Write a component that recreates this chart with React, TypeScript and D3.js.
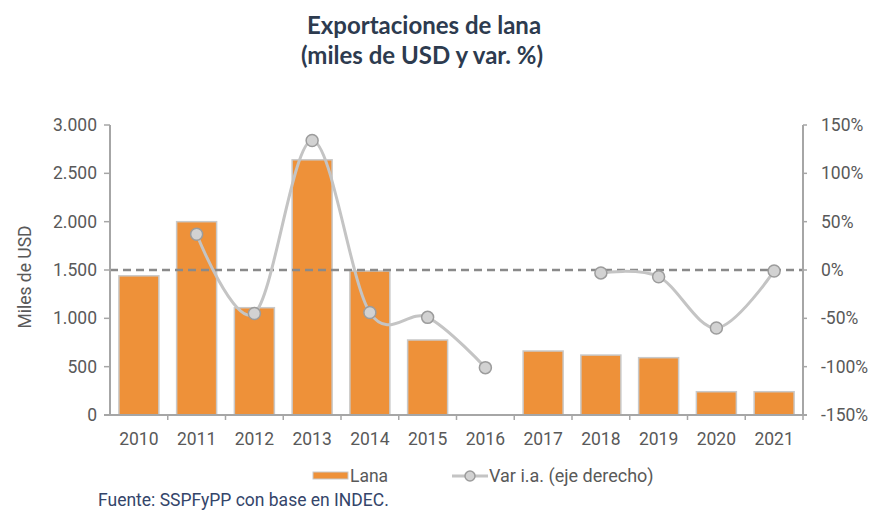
import React from 'react';
import * as d3 from 'd3';

const years = ['2010', '2011', '2012', '2013', '2014', '2015', '2016', '2017', '2018', '2019', '2020', '2021'];
const lana = [1440, 2000, 1110, 2640, 1490, 776, 0, 662, 620, 593, 241, 241];
const variacion: (number | null)[] = [null, 37, -45, 134, -44, -49, -101, null, -3, -7, -60, -1];
const leftTicks = [0, 500, 1000, 1500, 2000, 2500, 3000];
const rightTicks = [-150, -100, -50, 0, 50, 100, 150];

const W = 872;
const H = 514;
const M = { left: 110, right: 69, top: 125, bottom: 99 };

const fmtLeft = (v: number) => d3.format(',')(v).replace(/,/g, '.');
const fmtRight = (v: number) => `${v}%`;

export default function App() {
  const innerW = W - M.left - M.right;
  const yL = d3.scaleLinear().domain([0, 3000]).range([H - M.bottom, M.top]);
  const yR = d3.scaleLinear().domain([-150, 150]).range([H - M.bottom, M.top]);
  const step = innerW / years.length;
  const band = d3.scaleBand<string>().domain(years).range([M.left, M.left + innerW]);

  const pts = years.map((yr, i) => ({ yr, v: variacion[i] }));
  const lineGen = d3
    .line<{ yr: string; v: number | null }>()
    .defined((d) => d.v !== null)
    .x((d) => (band(d.yr) as number) + band.bandwidth() / 2)
    .y((d) => yR(d.v as number))
    .curve(d3.curveCatmullRom.alpha(0));

  const axisColor = '#a6a6a6';
  const textColor = '#595959';
  const font = 'Roboto, "Liberation Sans", Arial, sans-serif';
  const fs = 17.5;
  const y0 = H - M.bottom;
  const xR = M.left + innerW;

  return (
    <svg width={W} height={H} style={{ display: 'block', position: 'absolute', left: 0, top: 0, background: '#fff' }}>
      <rect x={0} y={0} width={W} height={H} fill="#fff" />
      {/* Title */}
      <g fontFamily='Lato, "Open Sans", sans-serif' fontWeight={700} fontSize={24} fill="#2d3b4f" textAnchor="middle">
        <text x={424} y={34}>Exportaciones de lana</text>
        <text x={422} y={64}>(miles de USD y var. %)</text>
      </g>

      {/* Bars */}
      {years.map((yr, i) =>
        lana[i] > 0 ? (
          <rect
            key={yr}
            x={(band(yr) as number) + (band.bandwidth() - 40) / 2}
            y={yL(lana[i])}
            width={40}
            height={y0 - yL(lana[i])}
            fill="#ee9139"
            stroke="#c9c9c9"
            strokeWidth={1.5}
          />
        ) : null
      )}

      {/* Zero dashed line (right axis) */}
      <line x1={M.left} x2={xR} y1={yR(0)} y2={yR(0)} stroke="#8a8a8a" strokeWidth={2.5} strokeDasharray="8,5" />

      {/* Axes */}
      <line x1={M.left} x2={M.left} y1={M.top} y2={y0} stroke={axisColor} strokeWidth={2} />
      <line x1={xR} x2={xR} y1={M.top} y2={y0} stroke={axisColor} strokeWidth={2} />
      <line x1={M.left - 6} x2={xR + 4} y1={y0} y2={y0} stroke={axisColor} strokeWidth={2} />
      {leftTicks.map((t) => (
        <g key={`l${t}`}>
          <line x1={M.left - 6} x2={M.left} y1={yL(t)} y2={yL(t)} stroke={axisColor} strokeWidth={1.5} />
          <text x={97} y={yL(t)} dy="0.35em" textAnchor="end" fontFamily={font} fontSize={fs} fill={textColor}>
            {fmtLeft(t)}
          </text>
        </g>
      ))}
      {rightTicks.map((t) => (
        <g key={`r${t}`}>
          <line x1={xR} x2={xR + 4} y1={yR(t)} y2={yR(t)} stroke={axisColor} strokeWidth={1.5} />
          <text x={821} y={yR(t)} dy="0.35em" textAnchor="start" fontFamily={font} fontSize={fs} fill={textColor}>
            {fmtRight(t)}
          </text>
        </g>
      ))}
      {years.map((yr, i) => (
        <g key={`x${yr}`}>
          <line x1={M.left + step * (i + 1)} x2={M.left + step * (i + 1)} y1={y0} y2={y0 + 5} stroke={axisColor} strokeWidth={1.5} />
          <text x={(band(yr) as number) + band.bandwidth() / 2} y={445} textAnchor="middle" fontFamily={font} fontSize={fs} fill={textColor}>
            {yr}
          </text>
        </g>
      ))}

      {/* Y axis title */}
      <text transform="translate(31,277) rotate(-90)" textAnchor="middle" fontFamily={font} fontSize={fs} fill={textColor}>
        Miles de USD
      </text>

      {/* Line */}
      <path d={lineGen(pts) || ''} fill="none" stroke="#c4c4c4" strokeWidth={3} />
      {pts.map((p) =>
        p.v !== null ? (
          <circle
            key={`c${p.yr}`}
            cx={(band(p.yr) as number) + band.bandwidth() / 2}
            cy={yR(p.v)}
            r={6}
            fill="#d2d2d2"
            stroke="#9c9c9c"
            strokeWidth={1.5}
          />
        ) : null
      )}

      {/* Legend */}
      <rect x={313} y={472} width={35} height={7} fill="#ee9139" stroke="#c9c9c9" strokeWidth={1} />
      <text x={350} y={482} fontFamily={font} fontSize={fs} fill={textColor}>Lana</text>
      <line x1={452} x2={488} y1={476} y2={476} stroke="#c4c4c4" strokeWidth={3} />
      <circle cx={470} cy={476} r={5} fill="#d2d2d2" stroke="#9c9c9c" strokeWidth={1.5} />
      <text x={489} y={482} fontFamily={font} fontSize={fs + 0.5} fill={textColor}>Var i.a. (eje derecho)</text>

      {/* Source */}
      <text x={98} y={506} fontFamily={font} fontSize={17.5} fill="#34456a">
        Fuente: SSPFyPP con base en INDEC.
      </text>
    </svg>
  );
}
